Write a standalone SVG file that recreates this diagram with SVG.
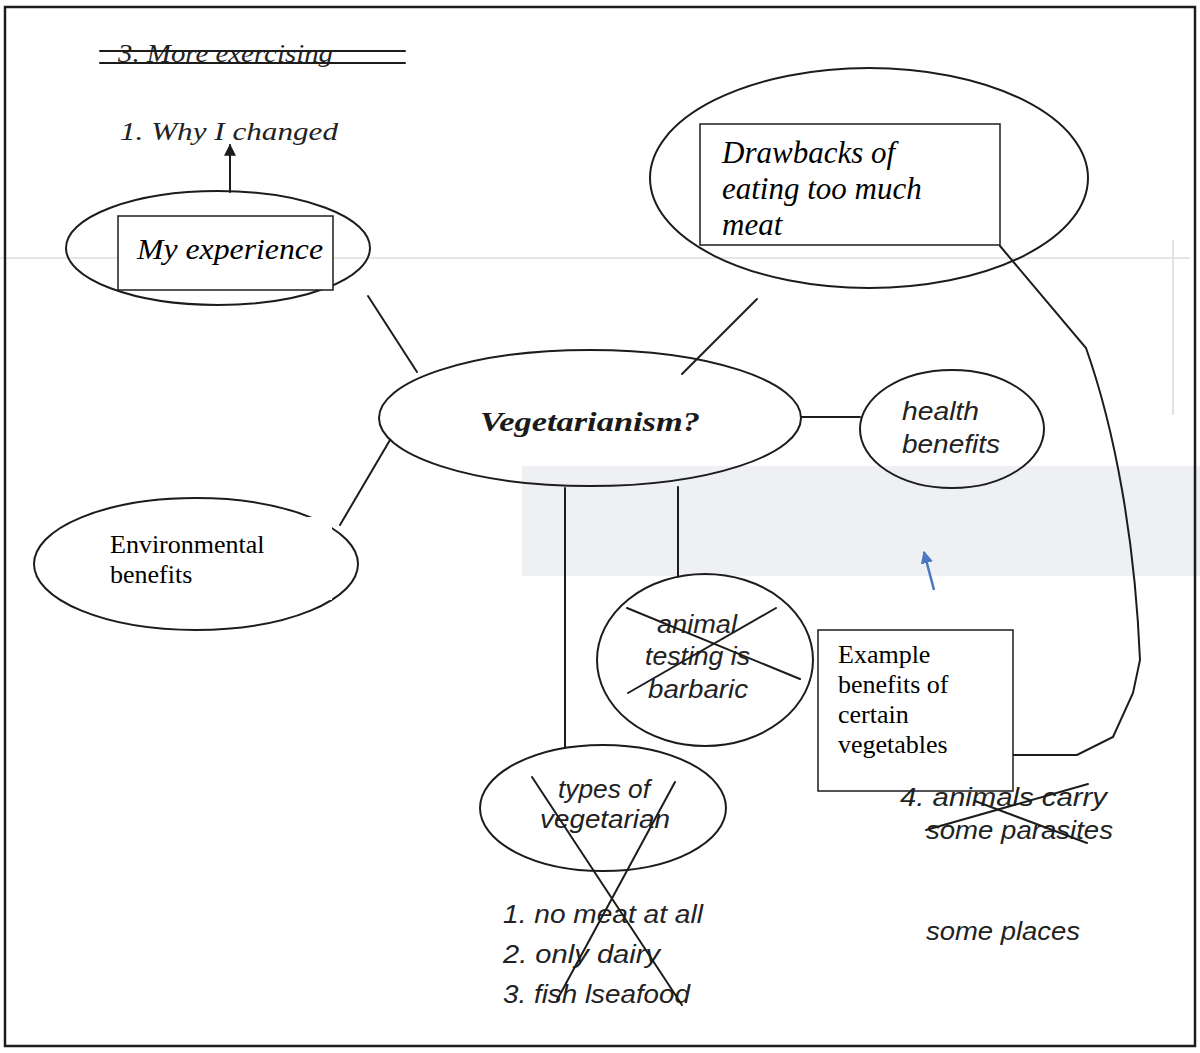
<svg xmlns="http://www.w3.org/2000/svg" width="1200" height="1053" viewBox="0 0 1200 1053">
<style>
.ln{stroke:#1c1c1c;stroke-width:2;fill:none;stroke-linecap:round}
.sh{stroke:#1c1c1c;stroke-width:2;fill:none}
.bx{fill:#fff;stroke:#1c1c1c;stroke-width:1.5}
.hi{font-family:"Liberation Serif","Times New Roman",serif;font-style:italic;fill:#222;font-size:26px}
.si{font-family:"Liberation Sans",Arial,sans-serif;font-style:italic;fill:#222;font-size:25px}
.ti{font-family:"Liberation Serif","Times New Roman",serif;font-style:italic;fill:#000;font-size:31px}
.tr{font-family:"Liberation Serif","Times New Roman",serif;fill:#000;font-size:26px}
</style>
<defs>
<marker id="ah" viewBox="0 0 10 10" refX="9" refY="5" markerWidth="6" markerHeight="6" orient="auto" markerUnits="strokeWidth">
<path d="M0,0 L10,5 L0,10 z" fill="#1c1c1c"/>
</marker>
<marker id="bh" viewBox="0 0 10 10" refX="9" refY="5" markerWidth="5" markerHeight="5" orient="auto" markerUnits="strokeWidth">
<path d="M0,0 L10,5 L0,10 z" fill="#4a78c0"/>
</marker>
</defs>
<rect width="1200" height="1053" fill="#fff"/>
<g id="background">
<rect x="522" y="466" width="678" height="110" fill="#eef0f3"/>
<line x1="0" y1="258" x2="1190" y2="258" stroke="#e6e6e6" stroke-width="2"/>
<line x1="1173" y1="240" x2="1173" y2="415" stroke="#e2e2e2" stroke-width="2"/>
</g>
<rect id="frame" x="5" y="7" width="1190" height="1039" fill="none" stroke="#1c1c1c" stroke-width="2.5"/>
<g id="connectors">
<line class="ln" x1="230" y1="192" x2="230" y2="145" marker-end="url(#ah)"/>
<line class="ln" x1="368" y1="296" x2="417" y2="372"/>
<line class="ln" x1="390" y1="440" x2="340" y2="525"/>
<line class="ln" x1="757" y1="299" x2="682" y2="374"/>
<line class="ln" x1="801" y1="417" x2="860" y2="417"/>
<line class="ln" x1="565" y1="488" x2="565" y2="748"/>
<line class="ln" x1="678" y1="487" x2="678" y2="577"/>
<path class="ln" d="M1000,246 L1086,348 C1115,430 1135,540 1140,660 L1133,693 L1113,737 L1077,755 L1013,755"/>
<line x1="934" y1="590" x2="924" y2="552" stroke="#4a78c0" stroke-width="2.5" marker-end="url(#bh)"/>
</g>
<g id="more-exercising">
<text class="hi" x="118" y="62" textLength="215" lengthAdjust="spacingAndGlyphs">3. More exercising</text>
<line class="ln" x1="100" y1="51" x2="405" y2="51" stroke-width="1.5"/>
<line class="ln" x1="100" y1="63" x2="405" y2="63" stroke-width="1.5"/>
</g>
<g id="why-changed">
<text class="hi" x="120" y="140" textLength="218" lengthAdjust="spacingAndGlyphs">1. Why I changed</text>
</g>
<g id="my-experience">
<ellipse class="sh" cx="218" cy="248" rx="152" ry="57"/>
<rect class="bx" x="118" y="216" width="215" height="74"/>
<text class="ti" x="137" y="259" textLength="186" lengthAdjust="spacingAndGlyphs" style="font-size:29px">My experience</text>
</g>
<g id="drawbacks">
<ellipse class="sh" cx="869" cy="178" rx="219" ry="110"/>
<rect class="bx" x="700" y="124" width="300" height="121"/>
<text class="ti" x="722" y="163">Drawbacks of</text>
<text class="ti" x="722" y="199">eating too much</text>
<text class="ti" x="722" y="235">meat</text>
</g>
<g id="vegetarianism">
<ellipse class="sh" cx="590" cy="418" rx="211" ry="68"/>
<text x="480" y="431" textLength="220" lengthAdjust="spacingAndGlyphs" style="font-family:'Liberation Serif','Times New Roman',serif;font-style:italic;font-weight:bold;font-size:27px;fill:#1a1a1a">Vegetarianism?</text>
</g>
<g id="environmental">
<ellipse class="sh" cx="196" cy="564" rx="162" ry="66"/>
<rect x="92" y="517" width="240" height="83" fill="#fff"/>
<text class="tr" x="110" y="553">Environmental</text>
<text class="tr" x="110" y="583">benefits</text>
</g>
<g id="health">
<ellipse class="sh" cx="952" cy="429" rx="92" ry="59"/>
<text class="si" x="902" y="420" textLength="77" lengthAdjust="spacingAndGlyphs">health</text>
<text class="si" x="902" y="453" textLength="98" lengthAdjust="spacingAndGlyphs">benefits</text>
</g>
<g id="animal-testing">
<ellipse class="sh" cx="705" cy="660" rx="108" ry="86"/>
<text class="si" x="657" y="633" textLength="80" lengthAdjust="spacingAndGlyphs">animal</text>
<text class="si" x="645" y="665" textLength="105" lengthAdjust="spacingAndGlyphs">testing is</text>
<text class="si" x="648" y="698" textLength="100" lengthAdjust="spacingAndGlyphs">barbaric</text>
<line class="ln" x1="627" y1="608" x2="800" y2="679"/>
<line class="ln" x1="776" y1="608" x2="628" y2="693"/>
</g>
<g id="example">
<rect class="bx" x="818" y="630" width="195" height="161"/>
<text class="tr" x="838" y="663">Example</text>
<text class="tr" x="838" y="693">benefits of</text>
<text class="tr" x="838" y="723">certain</text>
<text class="tr" x="838" y="753">vegetables</text>
</g>
<g id="animals-carry">
<text class="si" x="900" y="806" textLength="207" lengthAdjust="spacingAndGlyphs">4. animals carry</text>
<text class="si" x="926" y="839" textLength="187" lengthAdjust="spacingAndGlyphs">some parasites</text>
<line class="ln" x1="926" y1="830" x2="1088" y2="784" stroke-width="1.5"/>
<line class="ln" x1="975" y1="801" x2="1087" y2="843" stroke-width="1.5"/>
</g>
<g id="some-places">
<text class="si" x="926" y="940" textLength="154" lengthAdjust="spacingAndGlyphs">some places</text>
</g>
<g id="types">
<ellipse class="sh" cx="603" cy="808" rx="123" ry="63"/>
<text class="si" x="558" y="798" textLength="92" lengthAdjust="spacingAndGlyphs">types of</text>
<text class="si" x="540" y="828" textLength="130" lengthAdjust="spacingAndGlyphs">vegetarian</text>
<text class="si" x="503" y="923" textLength="200" lengthAdjust="spacingAndGlyphs">1. no meat at all</text>
<text class="si" x="503" y="963" textLength="157" lengthAdjust="spacingAndGlyphs">2. only dairy</text>
<text class="si" x="503" y="1003" textLength="187" lengthAdjust="spacingAndGlyphs">3. fish lseafood</text>
<line class="ln" x1="532" y1="777" x2="682" y2="1005"/>
<line class="ln" x1="675" y1="782" x2="557" y2="1000"/>
</g>
</svg>
